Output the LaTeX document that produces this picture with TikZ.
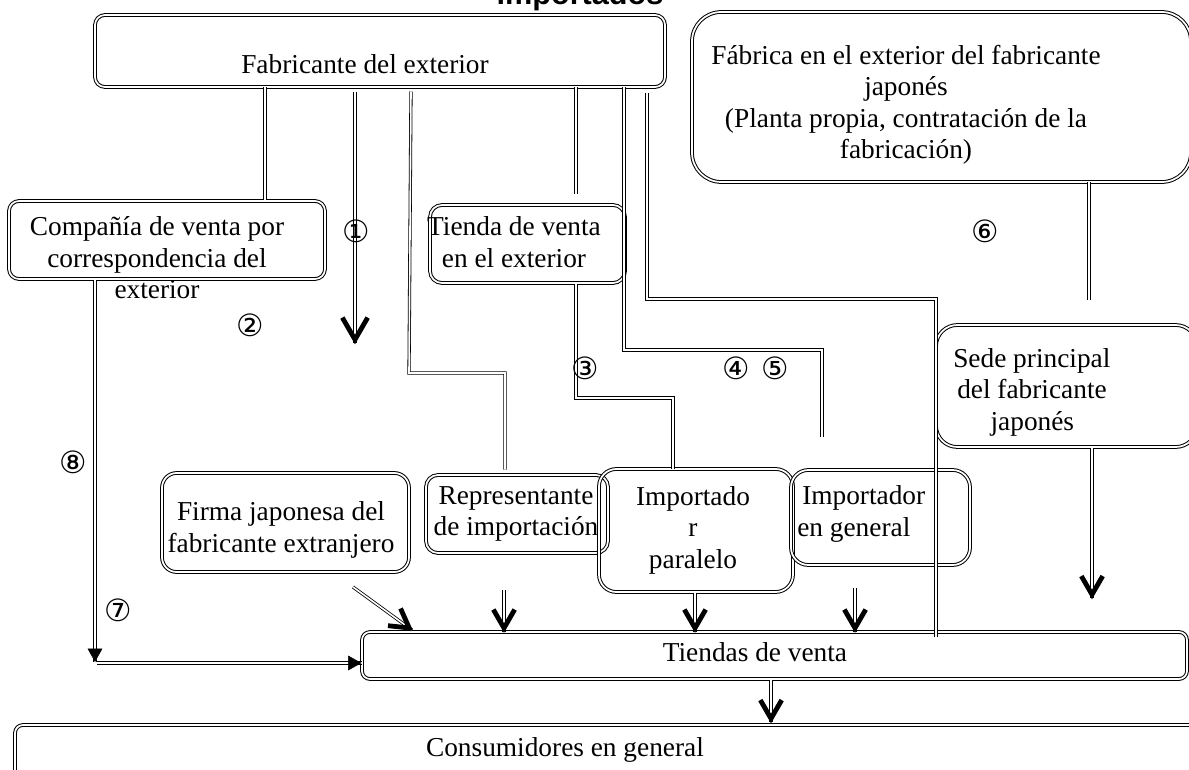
\documentclass[tikz,border=0pt]{standalone}
\usepackage{fontspec}
\setmainfont{Liberation Serif}
\newfontfamily\symfont{DejaVu Sans}
\newfontfamily\headfont{Liberation Sans}
\usetikzlibrary{arrows.meta,calc,fit}
% open chevron head: [arm length]{tip}{point back along the line}
\newcommand{\mkhead}[3][16pt]{%
  \coordinate (hv) at ($(#2)!2.6pt!(#3)$);
  \draw[chev] ($(hv)!#1!30:(#3)$) -- (hv) -- ($(hv)!#1!-30:(#3)$);}
\begin{document}
\begin{tikzpicture}[x=0.75pt,y=-0.75pt,
 box/.style={draw, double, line width=0.75pt, double distance=1.3pt, rounded corners=#1, inner sep=0pt},
 box/.default=7.5pt,
 conn/.style={draw, double, line width=0.6pt, double distance=1.2pt},
 chev/.style={draw, line width=3.6pt, line join=miter, line cap=butt},
 txt/.style={font=\fontsize{20.5}{23.6}\selectfont, align=center, inner sep=0pt},
 ltxt/.style={font=\fontsize{20.5}{23.6}\selectfont, align=left, inner sep=0pt, anchor=west},
 num/.style={font=\symfont\fontsize{23}{25}\selectfont, inner sep=0pt},
 ttip/.style={draw=white, line width=0.4pt, -{Triangle[color=black, length=10pt, width=11pt]}}
]
\useasboundingbox (0,0) rectangle (1189,770);
\clip (0,0) rectangle (1189,770);

% title (cut at the top)
\node[font=\headfont\bfseries\fontsize{23}{26}\selectfont, anchor=base, inner sep=0pt] (title) at (580,5) {importados};

% boxes
\node[box] (fab) [fit={(95,15)(665,87)}] {};
\node[box=22pt] (fabjp) [fit={(692,12)(1191,182)}] {};
\node[box] (comp) [fit={(9,201)(325,279)}] {};
\node[box=9pt] (tienda) [fit={(430,205)(625,283)}] {};
\node[box=16pt] (sede) [fit={(936,325)(1197,447)}] {};
\node[box=11pt] (firma) [fit={(162,473)(409,572)}] {};
\node[box=9pt] (rep) [fit={(426,475)(608,553)}] {};
\node[box=13pt] (imp) [fit={(599,469)(793,592)}] {};
\node[box=13pt] (gen) [fit={(791,470)(970,565)}] {};
\node[box=6pt] (tiendas) [fit={(362,632)(1187,679)}] {};
\node[box=6pt] (cons) [fit={(15,725)(1200,800)}] {};

% texts
\node[txt] (fabT) at (365,64) {Fabricante del exterior};
\node[txt] (fabjpT) at (906,105) {Fábrica en el exterior del fabricante\\japonés\\(Planta propia, contratación de la\\fabricación)};
\node[txt] (compT) at (157,258) {Compañía de venta por\\correspondencia del\\exterior};
\node[txt] (tiendaT) at (514,242) {Tienda de venta\\en el exterior};
\node[ltxt] (sedeT) at (953,392) {Sede principal\\\hspace*{3pt}del fabricante\\\hspace*{28pt}japonés};
\node[txt] (firmaT) at (281,530) {Firma japonesa del\\fabricante extranjero};
\node[txt] (repT) at (516,514) {Representante\\de importación};
\node[txt] (impT) at (693,530) {Importado\\r\\paralelo};
\node[ltxt] (genT) at (797,514) {\hspace*{3.75pt}Importador\\en general};
\node[txt] (tiendasT) at (755,652) {Tiendas de venta};
\node[txt] (consT) at (565,750) {Consumidores en general};

% connectors from the foreign manufacturer
\draw[conn] (265,0 |- fab.south) -- (265,0 |- comp.north);
\coordinate (s1) at ($(355,0 |- fab.south)+(0,5)$);
\coordinate (e1) at (355,343);
\draw[conn] (s1) -- (e1);
\mkhead[19pt]{e1}{s1}
\draw[conn] ($(411,0 |- fab.south)+(0,4)$) -- (409,373) -- (505,373) -- ($(505,0 |- rep.north)+(0,-5)$);
\draw[conn] (576,0 |- fab.south) -- ($(576,0 |- tienda.north)+(0,-10)$);
\draw[conn] (624,0 |- fab.south) -- (624,350) -- (822,350) -- (822,437);
\draw[conn] ($(647,0 |- fab.south)+(0,6)$) -- (647,299) -- (936,299) -- ($(936,0 |- tiendas.north)+(0,5)$);
\draw[conn] (576,0 |- tienda.south) -- (576,398) -- (673,398) -- (673,0 |- imp.north);

% japanese manufacturer
\draw[conn] (1089,0 |- fabjp.south) -- ($(1089,0 |- sede.north)+(0,-25)$);
\coordinate (s6) at (1092,0 |- sede.south);
\coordinate (e6) at (1092,598);
\draw[conn] (s6) -- (e6);
\mkhead{e6}{s6}

% mail order company
\coordinate (a8) at (95,662);
\draw[conn] (95,0 |- comp.south) -- (a8);
\draw[ttip] ($(a8)+(0,-3)$) -- (a8);
\coordinate (a7s) at (97,663);
\coordinate (a7) at (tiendas.west |- a7s);
\draw[conn] (a7s) -- (a7);
\draw[ttip] ($(a7)+(-3,0)$) -- (a7);

% into the shops
\coordinate (fs) at (353,587);
\coordinate (fe) at (412,630);
\draw[conn] (fs) -- (fe);
\mkhead{fe}{fs}

\coordinate (rs) at (504,590);
\coordinate (re) at (504,0 |- tiendas.north);
\draw[conn] (rs) -- (re);
\mkhead{re}{rs}
\coordinate (is) at (695,0 |- imp.south);
\coordinate (ie) at (695,0 |- tiendas.north);
\draw[conn] (is) -- (ie);
\mkhead{ie}{is}
\coordinate (gs) at (855,588);
\coordinate (ge) at (855,0 |- tiendas.north);
\draw[conn] (gs) -- (ge);
\mkhead{ge}{gs}

% to consumers
\coordinate (cs) at (771,0 |- tiendas.south);
\coordinate (ce) at (771,722);
\draw[conn] (cs) -- (ce);
\mkhead{ce}{cs}

% circled numbers (on top of the lines)
\node[num] (n1) at (356,231) {①};
\node[num] (n2) at (250,325) {②};
\node[num] (n3) at (585,368) {③};
\node[num] (n4) at (736,368) {④};
\node[num] (n5) at (775,368) {⑤};
\node[num] (n6) at (985,231) {⑥};
\node[num] (n7) at (118,610) {⑦};
\node[num] (n8) at (73,462) {⑧};
\end{tikzpicture}
\end{document}
